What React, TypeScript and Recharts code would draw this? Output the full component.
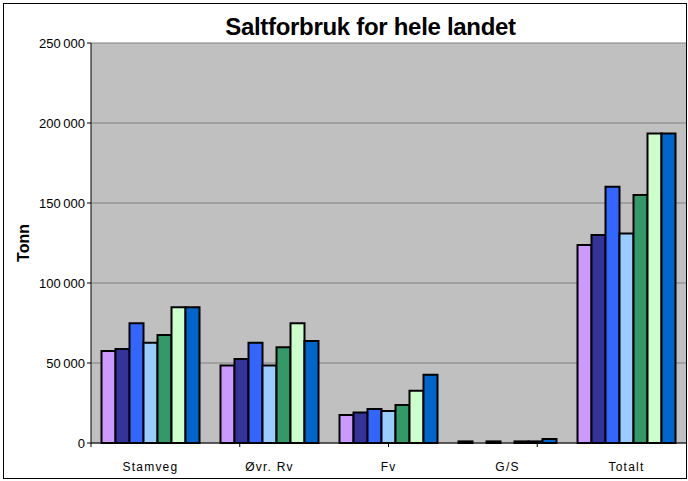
import React from 'react';
import { BarChart, Bar, XAxis, YAxis, CartesianGrid, Label, ReferenceLine } from 'recharts';

const categories = ['Stamveg', 'Øvr. Rv', 'Fv', 'G/S', 'Totalt'];
const series1 = [57500, 48500, 17500, 1000, 123750];
const series2 = [58750, 52500, 19000, 0, 130000];
const series3 = [74800, 62700, 21250, 1000, 160200];
const series4 = [62700, 48500, 20000, 0, 131000];
const series5 = [67500, 59800, 23750, 1000, 155000];
const series6 = [84800, 74800, 32700, 1000, 193500];
const series7 = [84800, 63750, 42700, 2500, 193500];
const yTicks = [0, 50000, 100000, 150000, 200000, 250000];
const colors = ['#CC99FF', '#333399', '#3366FF', '#99CCFF', '#339966', '#CCFFCC', '#0066CC'];

const seriesList = [series1, series2, series3, series4, series5, series6, series7];
const data = categories.map((c, i) => {
  const row: Record<string, string | number> = { name: c };
  seriesList.forEach((s, k) => {
    row['s' + k] = s[i];
  });
  return row;
});

const fmt = (v: number) => {
  if (v === 0) return '0';
  const th = Math.floor(v / 1000);
  const rest = String(v % 1000).padStart(3, '0');
  return th + '\u2009' + rest;
};

export default function App() {
  const font = '"Liberation Sans", Arial, sans-serif';
  return (
    <div style={{ position: 'absolute', left: 0, top: 0, width: 688, height: 481, background: '#fff', fontFamily: font }}>
      <div style={{ position: 'absolute', left: 3, top: 3, width: 684, height: 476, border: '1px solid #000', boxSizing: 'border-box' }} />
      <div style={{ position: 'absolute', left: 0, top: 13, width: 741, textAlign: 'center', fontWeight: 'bold', fontSize: 24, letterSpacing: -0.3, color: '#000', lineHeight: '28px' }}>
        Saltforbruk for hele landet
      </div>
      <div style={{ position: 'absolute', left: 0, top: 0 }}>
        <BarChart
          width={688}
          height={481}
          data={data}
          margin={{ top: 43, right: 2, bottom: 0, left: 31 }}
          barCategoryGap={10.5}
          barGap={0}
        >
          <CartesianGrid vertical={false} fill="#C0C0C0" stroke="#808080" strokeWidth={1} />
          <XAxis
            xAxisId="b"
            type="number"
            domain={[0, 5]}
            ticks={[0, 1, 2, 3, 4, 5]}
            tickFormatter={() => ''}
            height={1}
            axisLine={{ stroke: '#000', strokeWidth: 1 }}
            tickLine={{ stroke: '#000' }}
            tickSize={4}
          />
          <XAxis
            xAxisId="c"
            dataKey="name"
            height={37}
            axisLine={false}
            tickLine={false}
            interval={0}
            tick={{ fill: '#000', fontSize: 12, fontFamily: font, letterSpacing: 1.2 }}
            dy={10}
          />
          <YAxis
            domain={[0, 250000]}
            ticks={yTicks}
            tickFormatter={fmt}
            width={60}
            axisLine={{ stroke: '#000' }}
            tickLine={{ stroke: '#000' }}
            tickSize={4}
            tick={{ fill: '#000', fontSize: 13, fontFamily: font }}
            interval={0}
          >
            <Label
              value="Tonn"
              angle={-90}
              position="insideLeft"
              offset={-8}
              style={{ fontWeight: 'bold', fontSize: 16, fill: '#000', fontFamily: font, textAnchor: 'middle' }}
            />
          </YAxis>
          <ReferenceLine xAxisId="b" x={5} stroke="#808080" strokeWidth={1} />
          {colors.map((c, k) => (
            <Bar
              key={k}
              xAxisId="c"
              dataKey={'s' + k}
              fill={c}
              stroke="#000"
              strokeWidth={2}
              isAnimationActive={false}
            />
          ))}
        </BarChart>
      </div>
    </div>
  );
}
